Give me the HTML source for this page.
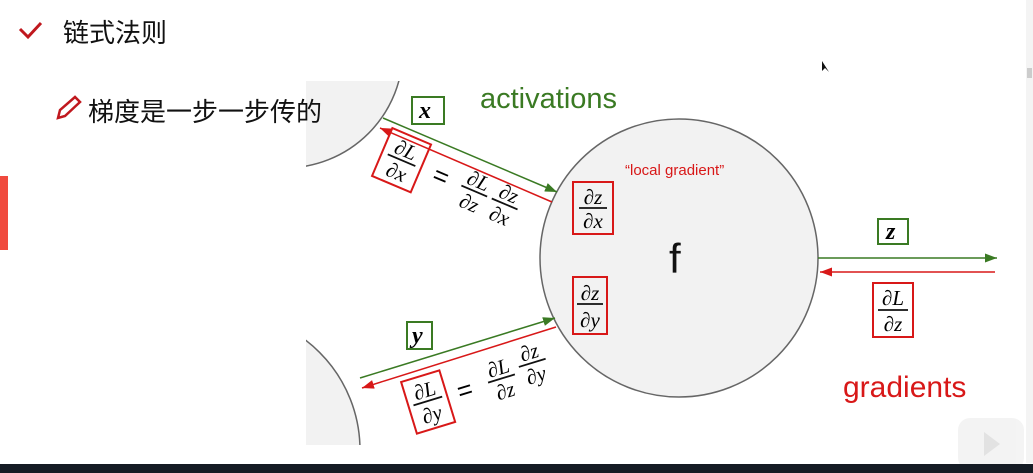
<!DOCTYPE html>
<html style="overflow:hidden"><head><meta charset="utf-8"><style>
html,body{margin:0;width:1033px;height:473px;overflow:hidden;background:#fff;font-family:"Liberation Sans","Noto Sans CJK SC",sans-serif}
svg{position:absolute;left:0;top:0;display:block}
.m{font-family:"Liberation Serif",serif;font-style:italic}
</style></head><body>
<svg width="1033" height="473">
<defs>
<marker id="ag" markerWidth="8" markerHeight="6" refX="8" refY="3" orient="auto"><path d="M0,0L8,3L0,6z" fill="#3a7a23"/></marker>
<marker id="ar" markerWidth="8" markerHeight="6" refX="8" refY="3" orient="auto"><path d="M0,0L8,3L0,6z" fill="#d81818"/></marker>
<clipPath id="img"><rect x="306" y="81" width="700" height="364"/></clipPath>
</defs>
<path d="M20,29 L28,37 L41,23" stroke="#c0181e" stroke-width="3" fill="none"/>
<text x="63" y="42" font-size="26" fill="#111">链式法则</text>
<g><path d="M58,118 L60,110 L75,97 L80,102 L65,116 Z" fill="none" stroke="#c0181e" stroke-width="2.5"/></g>
<rect x="0" y="176" width="8" height="74" fill="#f04a3e"/>
<g clip-path="url(#img)">
<circle cx="285" cy="50" r="118" fill="#f2f2f2" stroke="#666" stroke-width="1.5"/>
<circle cx="222" cy="450" r="138" fill="#f2f2f2" stroke="#666" stroke-width="1.5"/>
</g>
<text x="88" y="121" font-size="26" fill="#111">梯度是一步一步传的</text>
<circle cx="679" cy="258" r="139" fill="#f2f2f2" stroke="#666" stroke-width="1.5"/>
<line x1="383" y1="118" x2="557" y2="192" stroke="#3a7a23" stroke-width="1.5" marker-end="url(#ag)"/>
<line x1="552" y1="202" x2="380" y2="128" stroke="#d81818" stroke-width="1.5" marker-end="url(#ar)"/>
<line x1="360" y1="378" x2="555" y2="318" stroke="#3a7a23" stroke-width="1.5" marker-end="url(#ag)"/>
<line x1="556" y1="327" x2="362" y2="388" stroke="#d81818" stroke-width="1.5" marker-end="url(#ar)"/>
<line x1="818" y1="258" x2="997" y2="258" stroke="#3a7a23" stroke-width="1.5" marker-end="url(#ag)"/>
<line x1="995" y1="272" x2="820" y2="272" stroke="#d81818" stroke-width="1.5" marker-end="url(#ar)"/>
<text x="480" y="108" font-size="29" fill="#3a7a23">activations</text>
<text x="843" y="397" font-size="30" fill="#d81818">gradients</text>
<text x="625" y="175" font-size="15" fill="#d81818">“local gradient”</text>
<text x="669" y="273" font-size="42" fill="#111">f</text>
<rect x="412" y="97" width="32" height="27" fill="none" stroke="#3a7a23" stroke-width="2"/>
<text class="m" x="419" y="118" font-size="24" font-weight="bold">x</text>
<rect x="407" y="322" width="25" height="27" fill="none" stroke="#3a7a23" stroke-width="2"/>
<text class="m" x="412" y="343" font-size="24" font-weight="bold">y</text>
<rect x="878" y="219" width="30" height="25" fill="none" stroke="#3a7a23" stroke-width="2"/>
<text class="m" x="886" y="239" font-size="24" font-weight="bold">z</text>
<g><rect x="573" y="182" width="40" height="52" fill="none" stroke="#d81818" stroke-width="2"/>
<text class="m" x="593" y="204" font-size="21" text-anchor="middle">∂z</text><line x1="579" y1="208" x2="607" y2="208" stroke="#111" stroke-width="1.8"/><text class="m" x="593" y="228" font-size="21" text-anchor="middle">∂x</text></g>
<g><rect x="573" y="277" width="34" height="57" fill="none" stroke="#d81818" stroke-width="2"/>
<text class="m" x="590" y="300" font-size="21" text-anchor="middle">∂z</text><line x1="577" y1="304" x2="603" y2="304" stroke="#111" stroke-width="1.8"/><text class="m" x="590" y="327" font-size="21" text-anchor="middle">∂y</text></g>
<g><rect x="873" y="283" width="40" height="54" fill="none" stroke="#d81818" stroke-width="2"/>
<text class="m" x="893" y="305" font-size="21" text-anchor="middle">∂L</text><line x1="878" y1="310" x2="908" y2="310" stroke="#111" stroke-width="1.8"/><text class="m" x="893" y="331" font-size="21" text-anchor="middle">∂z</text></g>
<g transform="rotate(23 440 195)">
<rect x="370" y="152" width="42" height="52" fill="none" stroke="#d81818" stroke-width="2"/>
<text class="m" x="391" y="174" font-size="21" text-anchor="middle">∂L</text><line x1="376" y1="178" x2="406" y2="178" stroke="#111" stroke-width="1.8"/><text class="m" x="391" y="198" font-size="21" text-anchor="middle">∂x</text>
<text x="426" y="186" font-size="26">=</text>
<text class="m" x="470" y="174" font-size="21" text-anchor="middle">∂L</text><line x1="456" y1="178" x2="484" y2="178" stroke="#111" stroke-width="1.8"/><text class="m" x="470" y="198" font-size="21" text-anchor="middle">∂z</text>
<text class="m" x="503" y="174" font-size="21" text-anchor="middle">∂z</text><line x1="489" y1="178" x2="517" y2="178" stroke="#111" stroke-width="1.8"/><text class="m" x="503" y="198" font-size="21" text-anchor="middle">∂x</text></g>
<g transform="rotate(-17 470 385)">
<rect x="405" y="362" width="40" height="54" fill="none" stroke="#d81818" stroke-width="2"/>
<text class="m" x="425" y="384" font-size="21" text-anchor="middle">∂L</text><line x1="410" y1="388" x2="440" y2="388" stroke="#111" stroke-width="1.8"/><text class="m" x="425" y="409" font-size="21" text-anchor="middle">∂y</text>
<text x="456" y="397" font-size="26">=</text>
<text class="m" x="502" y="384" font-size="21" text-anchor="middle">∂L</text><line x1="488" y1="388" x2="516" y2="388" stroke="#111" stroke-width="1.8"/><text class="m" x="502" y="408" font-size="21" text-anchor="middle">∂z</text>
<text class="m" x="536" y="378" font-size="21" text-anchor="middle">∂z</text><line x1="522" y1="382" x2="550" y2="382" stroke="#111" stroke-width="1.8"/><text class="m" x="536" y="402" font-size="21" text-anchor="middle">∂y</text></g>
<path d="M822,61 L822,71 L825,68 L829,72 Z" fill="#111"/>
<rect x="1026" y="0" width="7" height="463" fill="#f4f4f4"/>
<rect x="1027" y="68" width="5" height="10" fill="#ccc"/>
<g opacity="0.85"><rect x="958" y="418" width="66" height="52" rx="12" fill="#f2f2f2"/><path d="M984,432 L1000,444 L984,456 Z" fill="#ddd"/></g>
<rect x="0" y="464" width="1033" height="9" fill="#151b24"/>
</svg>
</body></html>
